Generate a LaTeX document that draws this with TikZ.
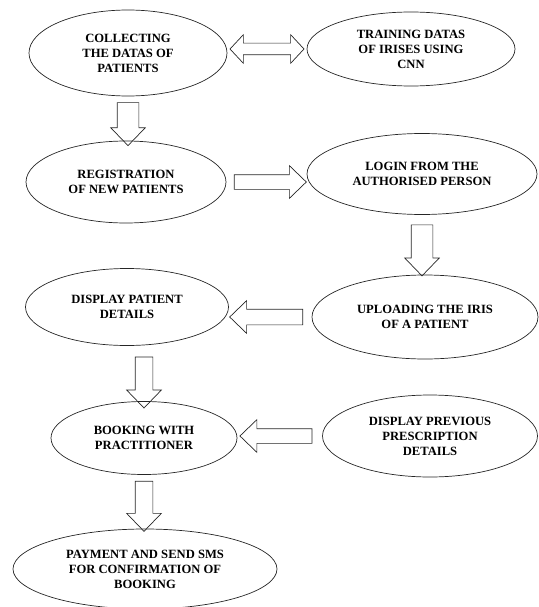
\documentclass[tikz,border=0pt]{standalone}
\usepackage{fontspec}
\setmainfont{Liberation Serif}
\usetikzlibrary{shapes.geometric, shapes.arrows}

\begin{document}
\begin{tikzpicture}[x=1pt,y=-1pt,
	state/.style={ellipse, draw=black!85, line width=0.7pt, inner sep=0pt, align=center},
	blockarrow/.style={single arrow, draw=black!85, line width=0.7pt, inner xsep=0pt, inner ysep=10.5pt, minimum width=0pt, single arrow head extend=6.5pt, single arrow tip angle=88, sloped, allow upside down, midway},
	flatarrow/.style={blockarrow, inner ysep=7pt, single arrow head extend=9pt},
	dblarrow/.style={double arrow, draw=black!85, line width=0.7pt, inner xsep=0pt, inner ysep=5.5pt, minimum width=0pt, double arrow head extend=8.5pt, double arrow tip angle=94, sloped, allow upside down, midway}]
		\useasboundingbox (0,0) rectangle (538,607);
		\fontsize{12.6}{15}\selectfont\bfseries
		\node[state, minimum width=198pt, minimum height=86pt	] (COLLECT_DATA) 	at (128,53)		{COLLECTING\\THE DATAS OF\\PATIENTS};
		\node[state, minimum width=208pt, minimum height=74pt	] (TRAIN_CNN) 		at (411,49)		{TRAINING DATAS\\OF IRISES USING\\CNN};
		\node[state, minimum width=200pt, minimum height=82pt	] (REG_PATIENT) 	at (126,182)	{REGISTRATION\\OF NEW PATIENTS};
		\node[state, minimum width=230pt, minimum height=81pt	] (LOGIN) 			at (422,174)	{LOGIN FROM THE\\AUTHORISED PERSON};
		\node[state, minimum width=203pt, minimum height=77pt	] (SHOW_DETAILS) 	at (127,307)	{DISPLAY PATIENT\\DETAILS};
		\node[state, minimum width=226pt, minimum height=84pt	] (UPLOAD_IRIS) 	at (425,317)	{UPLOADING THE IRIS\\OF A PATIENT};
		\node[state, minimum width=186pt, minimum height=73pt	] (BOOKING) 		at (144,438)	{BOOKING WITH\\PRACTITIONER};
		\node[state, minimum width=215pt, minimum height=82pt	] (PREV_PRESC) 		at (430,436)	{DISPLAY PREVIOUS\\PRESCRIPTION\\DETAILS};
		\node[state, minimum width=264pt, minimum height=80pt	] (PAYMENT_SMS) 	at (145,569)	{PAYMENT AND SEND SMS\\FOR CONFIRMATION OF\\BOOKING};

		\path	(COLLECT_DATA.east |- TRAIN_CNN.west)	-- node[dblarrow, minimum height=74pt							]{}	(TRAIN_CNN.west)
				(COLLECT_DATA.south)					-- node[blockarrow, minimum height=43pt							]{}	(COLLECT_DATA.south |- REG_PATIENT.north)
				(REG_PATIENT.east)						-- node[flatarrow, minimum height=72pt							]{}	(REG_PATIENT.east -| LOGIN.west)
				(LOGIN.south)							-- node[blockarrow, minimum height=51pt							]{}	(LOGIN.south |- UPLOAD_IRIS.north)
				(UPLOAD_IRIS.west)						-- node[flatarrow, minimum height=73pt, inner ysep=7.5pt, single arrow head extend=8.5pt]{}	(UPLOAD_IRIS.west -| SHOW_DETAILS.east)
				(BOOKING.north |- SHOW_DETAILS.south)	-- node[blockarrow, minimum height=51pt, pos=0.58, inner ysep=8.5pt, single arrow head extend=8.5pt]{}	(BOOKING.north)
				(PREV_PRESC.west)						-- node[flatarrow, minimum height=72pt							]{}	(PREV_PRESC.west -| BOOKING.east)
				(BOOKING.south)							-- node[blockarrow, minimum height=50pt, inner ysep=8.5pt, single arrow head extend=8.5pt]{}	(BOOKING.south |- PAYMENT_SMS.north)
				;
	\end{tikzpicture}
\end{document}
